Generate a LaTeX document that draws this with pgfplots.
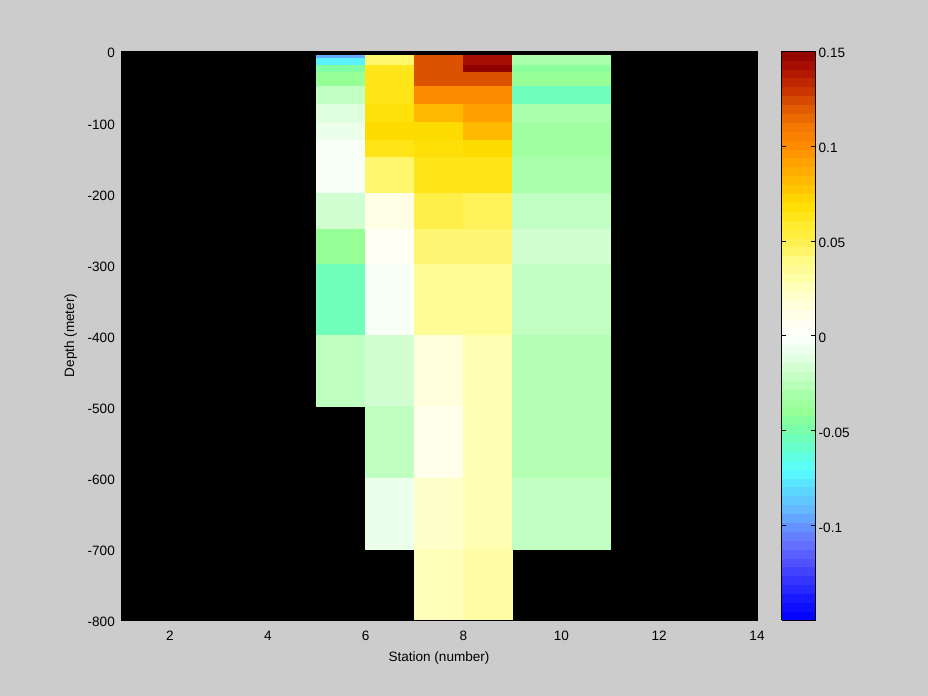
\documentclass[border=0pt]{standalone}
\usepackage{fontspec}
\setmainfont{Liberation Sans}
\usepackage{pgfplots}
\pgfplotsset{compat=1.18}
\usepgfplotslibrary{patchplots}
\definecolor{figbg}{RGB}{204,204,204}
\pgfplotsset{colormap={oceanjet}{
  rgb255=(0,0,255) rgb255=(20,20,255) rgb255=(50,50,255) rgb255=(80,80,255)
  rgb255=(100,110,255) rgb255=(100,150,255) rgb255=(100,190,255) rgb255=(90,220,255)
  rgb255=(90,255,255) rgb255=(100,255,210) rgb255=(120,255,170) rgb255=(150,255,150)
  rgb255=(170,255,170) rgb255=(200,255,200) rgb255=(230,255,230) rgb255=(255,255,255)
  rgb255=(255,255,235) rgb255=(255,255,210) rgb255=(255,255,170) rgb255=(255,250,130)
  rgb255=(255,240,80) rgb255=(255,235,40) rgb255=(255,220,0) rgb255=(255,190,0)
  rgb255=(255,165,0) rgb255=(255,140,0) rgb255=(245,120,0) rgb255=(225,90,0)
  rgb255=(200,50,0) rgb255=(175,20,0) rgb255=(140,0,0)}}
\newcommand\lblfont{\fontsize{13.6}{15}\selectfont}

\begin{document}
\begin{tikzpicture}
\path[use as bounding box, fill=figbg] (0,0) rectangle (928bp,696bp);
\begin{axis}[
  at={(121bp,76bp)}, anchor=south west,
  scale only axis, width=636bp, height=569bp,
  xmin=1, xmax=14, ymin=-800, ymax=0,
  axis background/.style={fill=black},
  xtick={2,4,...,14}, xticklabels={2,4,6,8,10,12,14},
  ytick={-800,-700,...,0},
  yticklabels={-800,-700,-600,-500,-400,-300,-200,-100,0},
  tick align=inside, major tick length=6bp, tick style={black},
  tick label style={font=\lblfont},
  label style={font=\lblfont},
  xticklabel style={anchor=base, inner sep=0pt, yshift=-21bp},
  yticklabel style={anchor=base east, inner sep=0pt, xshift=-6bp, yshift=-7bp},
  xlabel={Station (number)}, ylabel={Depth (meter)},
  xlabel style={at={(axis description cs:0.5,-0.0738)}, anchor=base, inner sep=0pt},
  ylabel style={at={(axis description cs:-0.0739,0.5)}, anchor=base, inner sep=0pt},
  colormap name=oceanjet,
  point meta min=-0.15, point meta max=0.15,
  colorbar sampled,
  colorbar style={
    samples=65,
    at={(parent axis.north east)}, anchor=north west, xshift=16bp,
    scale only axis, width=34bp, height=569bp,
    ytick={-0.1,-0.05,0,0.05,0.1,0.15},
    yticklabels={-0.1,-0.05,0,0.05,0.1,0.15},
    ytick pos=both, yticklabel pos=right,
    tick align=inside, major tick length=4.5bp,
    every y tick label/.style={font=\lblfont, anchor=base west, inner sep=0pt, xshift=3bp, yshift=-7bp},
  },
]
% station 5-6
\addplot[patch, patch type=rectangle, shader=flat mean, point meta=explicit] coordinates {
(5,-6)[-0.095] (6,-6)[-0.095] (6,-10)[-0.095] (5,-10)[-0.095]
(5,-10)[-0.074] (6,-10)[-0.074] (6,-20)[-0.074] (5,-20)[-0.074]
(5,-20)[-0.047] (6,-20)[-0.047] (6,-30)[-0.047] (5,-30)[-0.047]
(5,-30)[-0.040] (6,-30)[-0.040] (6,-50)[-0.040] (5,-50)[-0.040]
(5,-50)[-0.022] (6,-50)[-0.022] (6,-75)[-0.022] (5,-75)[-0.022]
(5,-75)[-0.013] (6,-75)[-0.013] (6,-100)[-0.013] (5,-100)[-0.013]
(5,-100)[-0.008] (6,-100)[-0.008] (6,-125)[-0.008] (5,-125)[-0.008]
(5,-125)[-0.003] (6,-125)[-0.003] (6,-200)[-0.003] (5,-200)[-0.003]
(5,-200)[-0.017] (6,-200)[-0.017] (6,-250)[-0.017] (5,-250)[-0.017]
(5,-250)[-0.040] (6,-250)[-0.040] (6,-300)[-0.040] (5,-300)[-0.040]
(5,-300)[-0.054] (6,-300)[-0.054] (6,-400)[-0.054] (5,-400)[-0.054]
(5,-400)[-0.023] (6,-400)[-0.023] (6,-500)[-0.023] (5,-500)[-0.023]
};
% station 6-7
\addplot[patch, patch type=rectangle, shader=flat mean, point meta=explicit] coordinates {
(6,-6)[0.044] (7,-6)[0.044] (7,-20)[0.044] (6,-20)[0.044]
(6,-20)[0.063] (7,-20)[0.063] (7,-30)[0.063] (6,-30)[0.063]
(6,-30)[0.064] (7,-30)[0.064] (7,-75)[0.064] (6,-75)[0.064]
(6,-75)[0.067] (7,-75)[0.067] (7,-100)[0.067] (6,-100)[0.067]
(6,-100)[0.070] (7,-100)[0.070] (7,-125)[0.070] (6,-125)[0.070]
(6,-125)[0.064] (7,-125)[0.064] (7,-150)[0.064] (6,-150)[0.064]
(6,-150)[0.044] (7,-150)[0.044] (7,-200)[0.044] (6,-200)[0.044]
(6,-200)[0.012] (7,-200)[0.012] (7,-250)[0.012] (6,-250)[0.012]
(6,-250)[0.006] (7,-250)[0.006] (7,-300)[0.006] (6,-300)[0.006]
(6,-300)[-0.003] (7,-300)[-0.003] (7,-400)[-0.003] (6,-400)[-0.003]
(6,-400)[-0.017] (7,-400)[-0.017] (7,-500)[-0.017] (6,-500)[-0.017]
(6,-500)[-0.023] (7,-500)[-0.023] (7,-600)[-0.023] (6,-600)[-0.023]
(6,-600)[-0.008] (7,-600)[-0.008] (7,-700)[-0.008] (6,-700)[-0.008]
};
% station 7-8
\addplot[patch, patch type=rectangle, shader=flat mean, point meta=explicit] coordinates {
(7,-6)[0.122] (8,-6)[0.122] (8,-50)[0.122] (7,-50)[0.122]
(7,-50)[0.100] (8,-50)[0.100] (8,-75)[0.100] (7,-75)[0.100]
(7,-75)[0.082] (8,-75)[0.082] (8,-100)[0.082] (7,-100)[0.082]
(7,-100)[0.070] (8,-100)[0.070] (8,-125)[0.070] (7,-125)[0.070]
(7,-125)[0.068] (8,-125)[0.068] (8,-150)[0.068] (7,-150)[0.068]
(7,-150)[0.064] (8,-150)[0.064] (8,-200)[0.064] (7,-200)[0.064]
(7,-200)[0.052] (8,-200)[0.052] (8,-250)[0.052] (7,-250)[0.052]
(7,-250)[0.043] (8,-250)[0.043] (8,-300)[0.043] (7,-300)[0.043]
(7,-300)[0.035] (8,-300)[0.035] (8,-400)[0.035] (7,-400)[0.035]
(7,-400)[0.016] (8,-400)[0.016] (8,-500)[0.016] (7,-500)[0.016]
(7,-500)[0.010] (8,-500)[0.010] (8,-600)[0.010] (7,-600)[0.010]
(7,-600)[0.022] (8,-600)[0.022] (8,-700)[0.022] (7,-700)[0.022]
(7,-700)[0.026] (8,-700)[0.026] (8,-800)[0.026] (7,-800)[0.026]
};
% station 8-9
\addplot[patch, patch type=rectangle, shader=flat mean, point meta=explicit] coordinates {
(8,-6)[0.143] (9,-6)[0.143] (9,-20)[0.143] (8,-20)[0.143]
(8,-20)[0.149] (9,-20)[0.149] (9,-30)[0.149] (8,-30)[0.149]
(8,-30)[0.122] (9,-30)[0.122] (9,-50)[0.122] (8,-50)[0.122]
(8,-50)[0.100] (9,-50)[0.100] (9,-75)[0.100] (8,-75)[0.100]
(8,-75)[0.092] (9,-75)[0.092] (9,-100)[0.092] (8,-100)[0.092]
(8,-100)[0.082] (9,-100)[0.082] (9,-125)[0.082] (8,-125)[0.082]
(8,-125)[0.070] (9,-125)[0.070] (9,-150)[0.070] (8,-150)[0.070]
(8,-150)[0.064] (9,-150)[0.064] (9,-200)[0.064] (8,-200)[0.064]
(8,-200)[0.048] (9,-200)[0.048] (9,-250)[0.048] (8,-250)[0.048]
(8,-250)[0.043] (9,-250)[0.043] (9,-300)[0.043] (8,-300)[0.043]
(8,-300)[0.035] (9,-300)[0.035] (9,-400)[0.035] (8,-400)[0.035]
(8,-400)[0.0275] (9,-400)[0.0275] (9,-700)[0.0275] (8,-700)[0.0275]
(8,-700)[0.031] (9,-700)[0.031] (9,-800)[0.031] (8,-800)[0.031]
};
% stations 9-11
\addplot[patch, patch type=rectangle, shader=flat mean, point meta=explicit] coordinates {
(9,-6)[-0.030] (11,-6)[-0.030] (11,-20)[-0.030] (9,-20)[-0.030]
(9,-20)[-0.044] (11,-20)[-0.044] (11,-30)[-0.044] (9,-30)[-0.044]
(9,-30)[-0.040] (11,-30)[-0.040] (11,-50)[-0.040] (9,-50)[-0.040]
(9,-50)[-0.055] (11,-50)[-0.055] (11,-75)[-0.055] (9,-75)[-0.055]
(9,-75)[-0.030] (11,-75)[-0.030] (11,-100)[-0.030] (9,-100)[-0.030]
(9,-100)[-0.035] (11,-100)[-0.035] (11,-150)[-0.035] (9,-150)[-0.035]
(9,-150)[-0.030] (11,-150)[-0.030] (11,-200)[-0.030] (9,-200)[-0.030]
(9,-200)[-0.022] (11,-200)[-0.022] (11,-250)[-0.022] (9,-250)[-0.022]
(9,-250)[-0.017] (11,-250)[-0.017] (11,-300)[-0.017] (9,-300)[-0.017]
(9,-300)[-0.022] (11,-300)[-0.022] (11,-400)[-0.022] (9,-400)[-0.022]
(9,-400)[-0.027] (11,-400)[-0.027] (11,-600)[-0.027] (9,-600)[-0.027]
(9,-600)[-0.022] (11,-600)[-0.022] (11,-700)[-0.022] (9,-700)[-0.022]
};
\end{axis}
\end{tikzpicture}
\end{document}
